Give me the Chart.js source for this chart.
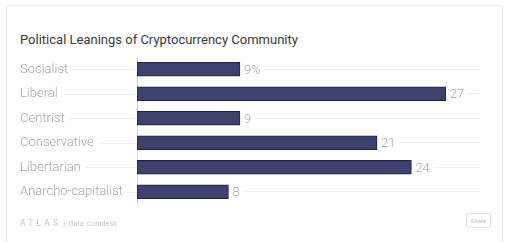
<!DOCTYPE html>
<html>
<head>
<meta charset="utf-8">
<script src="https://cdn.jsdelivr.net/npm/chart.js"></script>
<style>
  html, body { margin: 0; padding: 0; background: #fff; }
  body { width: 512px; height: 242px; position: relative; overflow: hidden; font-family: Roboto, sans-serif; }
  .card { position: absolute; left: 6px; top: 5px; width: 497px; height: 250px; border: 1px solid #ececec; border-radius: 3px; box-sizing: border-box; }
  .title { position: absolute; left: 20px; top: 32px; font-size: 13px; color: #3a3a3a; white-space: nowrap; }
  .chart-box { position: absolute; left: 0; top: 0; width: 512px; height: 242px; }
  .footer { position: absolute; left: 20px; top: 215px; color: #c4c4c4; white-space: nowrap; line-height: 12px; }
  .footer .logo { font-size: 8.5px; letter-spacing: 3.2px; }
  .footer .src { font-size: 7.2px; margin-left: 2px; }
  .share { position: absolute; left: 466px; top: 213px; width: 25px; height: 15px; border: 1px solid #e2e2e2; border-radius: 2px; box-sizing: border-box; font-size: 6px; color: #bbb; text-align: center; line-height: 13px; }
</style>
</head>
<body>
<div class="card"></div>
<div class="title">Political Leanings of Cryptocurrency Community</div>
<div class="chart-box"><canvas id="chart"></canvas></div>
<div class="footer"><span class="logo">ATLAS</span><span class="src">|&nbsp; Data: Coindesk</span></div>
<div class="share">Share</div>
<script>
// 데이터
const categories = ['Socialist', 'Liberal', 'Centrist', 'Conservative', 'Libertarian', 'Anarcho-capitalist'];
const shares = [9, 27, 9, 21, 24, 8];
const xMax = 30;

const labelColor = '#a8a8a8';
const labelFont = { family: 'Roboto', size: 13, weight: '300' };

// 라벨 왼쪽 보조선
const leadLines = {
    id: 'leadLines',
    beforeDraw(chart) {
        const { ctx, chartArea, scales } = chart;
        ctx.save();
        ctx.strokeStyle = '#efefef';
        ctx.lineWidth = 1;
        categories.forEach((c, i) => {
            const y = Math.round(scales.y.getPixelForValue(i)) + 0.5;
            ctx.beginPath();
            ctx.moveTo(20, y);
            ctx.lineTo(chartArea.left, y);
            ctx.stroke();
        });
        ctx.restore();
    }
};

// 값 라벨
const valueLabels = {
    id: 'valueLabels',
    afterDatasetsDraw(chart) {
        const { ctx } = chart;
        const meta = chart.getDatasetMeta(0);
        ctx.save();
        ctx.font = `${labelFont.weight} ${labelFont.size}px ${labelFont.family}`;
        ctx.textBaseline = 'middle';
        meta.data.forEach((bar, i) => {
            const text = shares[i] + (i === 0 ? '%' : '');
            const w = ctx.measureText(text).width;
            const x = bar.x + 4;
            ctx.fillStyle = '#fff';
            ctx.fillRect(x - 2, bar.y - 8, w + 6, 16);
            ctx.fillStyle = labelColor;
            ctx.fillText(text, x, bar.y + 1);
        });
        ctx.restore();
    }
};

new Chart(document.getElementById('chart'), {
    type: 'bar',
    data: {
        labels: categories,
        datasets: [{
            data: shares,
            backgroundColor: '#3d416e',
            borderColor: '#1e2150',
            borderWidth: 1,
            borderSkipped: false,
            barThickness: 14
        }]
    },
    options: {
        indexAxis: 'y',
        responsive: true,
        maintainAspectRatio: false,
        animation: false,
        layout: { padding: { left: 20, top: 57, right: 32, bottom: 38 } },
        plugins: {
            legend: { display: false },
            tooltip: { enabled: false }
        },
        scales: {
            x: {
                display: false,
                min: 0,
                max: xMax
            },
            y: {
                afterFit(scale) { scale.width = 117; },
                grid: { offset: false, color: '#efefef', drawTicks: false },
                border: { display: true, color: '#d4d4d4' },
                ticks: {
                    crossAlign: 'far',
                    color: labelColor,
                    font: labelFont,
                    padding: 0,
                    showLabelBackdrop: true,
                    backdropColor: '#fff',
                    backdropPadding: { top: 2, bottom: 2, left: 0, right: 5 }
                }
            }
        }
    },
    plugins: [leadLines, valueLabels]
});
</script>
</body>
</html>
